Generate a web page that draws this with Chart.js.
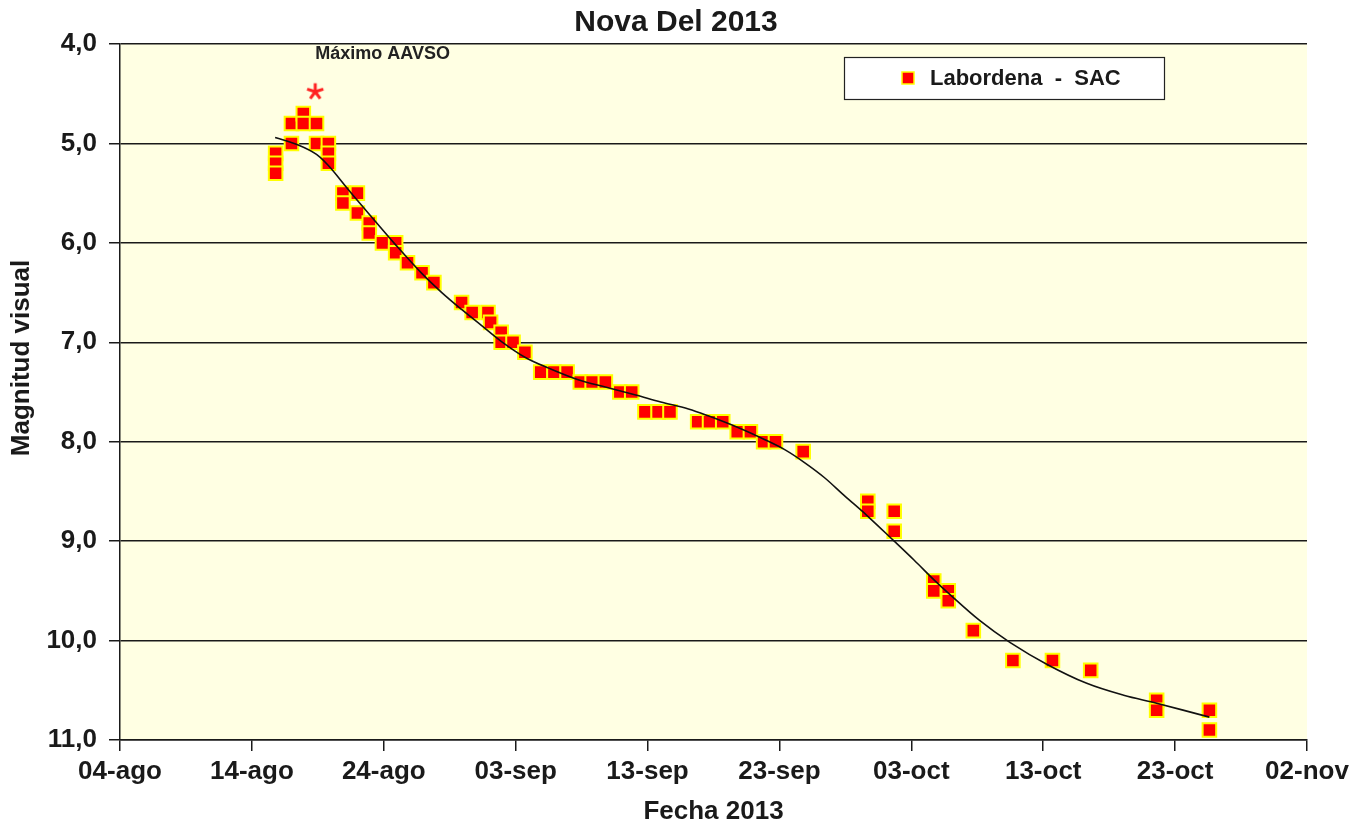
<!DOCTYPE html>
<html>
<head>
<meta charset="utf-8">
<script src="https://cdn.jsdelivr.net/npm/chart.js@4.4.1/dist/chart.umd.min.js"></script>
<style>
  html, body { margin: 0; padding: 0; background: #ffffff; }
  #wrap { width: 1370px; height: 828px; position: relative; }
</style>
</head>
<body>
<div id="wrap"><canvas id="c" width="1370" height="828"></canvas></div>
<script>
// ---- Data (x = days after 04-ago-2013) ----
const chartTitle = 'Nova Del 2013';
const seriesLabel = 'Labordena  -  SAC';
const annotationText = 'Máximo AAVSO';
const xTitle = 'Fecha 2013';
const yTitle = 'Magnitud visual';

const xTickLabels = ['04-ago','14-ago','24-ago','03-sep','13-sep','23-sep','03-oct','13-oct','23-oct','02-nov'];
const yTickLabels = ['4,0','5,0','6,0','7,0','8,0','9,0','10,0','11,0'];

const obsDay = [11.8, 11.8, 11.8, 13.0, 13.0, 13.9, 13.9, 14.9, 14.9, 15.8, 15.8, 15.8,
  16.9, 16.9, 18.0, 18.0, 18.9, 18.9, 19.9, 20.9, 20.9, 21.8, 22.9, 23.8,
  25.9, 26.7, 27.9, 28.1, 28.9, 28.9, 29.8, 30.7, 31.9, 32.9, 33.9, 34.9, 35.8, 36.8,
  37.9, 38.8, 39.8, 40.8, 41.7, 43.8, 44.7, 45.7, 46.8, 47.8, 48.8, 49.7, 51.8,
  56.7, 56.7, 58.7, 58.7, 61.7, 61.7, 62.8, 62.8, 64.7, 67.7, 70.7, 73.6,
  78.6, 78.6, 82.6, 82.6];
const obsMag = [5.1, 5.2, 5.3, 4.8, 5.0, 4.7, 4.8, 4.8, 5.0, 5.0, 5.1, 5.2,
  5.5, 5.6, 5.5, 5.7, 5.8, 5.9, 6.0, 6.0, 6.1, 6.2, 6.3, 6.4,
  6.6, 6.7, 6.7, 6.8, 6.9, 7.0, 7.0, 7.1, 7.3, 7.3, 7.3, 7.4, 7.4, 7.4,
  7.5, 7.5, 7.7, 7.7, 7.7, 7.8, 7.8, 7.8, 7.9, 7.9, 8.0, 8.0, 8.1,
  8.6, 8.7, 8.7, 8.9, 9.4, 9.5, 9.5, 9.6, 9.9, 10.2, 10.2, 10.3,
  10.6, 10.7, 10.7, 10.9];

// trend line
const fitDay = [11.76, 13.6, 14.9, 15.85, 17.1, 18.3, 19.4, 20.9, 22.9, 24.4, 25.9, 27.4, 28.9,
  30.7, 32.5, 34.8, 36.8, 39.1, 41.0, 43.1, 44.6, 46.9, 48.9, 50.4, 51.9, 53.4, 54.9,
  56.7, 58.7, 60.2, 61.8, 62.7, 65.2, 67.5, 70.3, 73.3, 76.1, 78.6, 82.6];
const fitMag = [4.94, 5.02, 5.11, 5.23, 5.43, 5.62, 5.79, 6.02, 6.31, 6.50, 6.67, 6.83, 6.99,
  7.15, 7.26, 7.38, 7.45, 7.53, 7.60, 7.67, 7.74, 7.86, 7.98, 8.08, 8.21, 8.36, 8.54,
  8.75, 9.00, 9.19, 9.40, 9.51, 9.80, 10.02, 10.24, 10.43, 10.55, 10.63, 10.77];

// AAVSO maximum marker
const maxDay = [14.8];
const maxMag = [4.48];

// ---- Styles ----
const FONT = "'Liberation Sans', Arial, sans-serif";
const PLOT_BG = '#FFFFE3';
const INK = '#1a1a1a';

function makeAsterisk() {
  const c = document.createElement('canvas');
  c.width = 22; c.height = 22;
  const g = c.getContext('2d');
  g.strokeStyle = '#FF2020';
  g.lineWidth = 3;
  g.lineCap = 'butt';
  const cx = 11, cy = 11, r = 8.5;
  for (let k = 0; k < 5; k++) {
    const a = -Math.PI / 2 + k * 2 * Math.PI / 5;
    g.beginPath();
    g.moveTo(cx, cy);
    g.lineTo(cx + r * Math.cos(a), cy + r * Math.sin(a));
    g.stroke();
  }
  return c;
}

const bgPlugin = {
  id: 'plotBg',
  beforeDraw(chart) {
    const { ctx, chartArea: a } = chart;
    ctx.save();
    ctx.fillStyle = PLOT_BG;
    ctx.fillRect(a.left, a.top, a.right - a.left, a.bottom - a.top);
    ctx.restore();
  }
};

const decorPlugin = {
  id: 'decor',
  afterDraw(chart) {
    const { ctx, chartArea: a } = chart;
    ctx.save();
    // title
    ctx.fillStyle = INK;
    ctx.font = 'bold 30px ' + FONT;
    ctx.textAlign = 'center';
    ctx.textBaseline = 'middle';
    ctx.fillText(chartTitle, 676, 23);

    // y axis title
    ctx.save();
    ctx.translate(22, 358);
    ctx.rotate(-Math.PI / 2);
    ctx.font = 'bold 26px ' + FONT;
    ctx.fillText(yTitle, 0, 0);
    ctx.restore();

    // annotation text
    const xs = chart.scales.x;
    ctx.font = 'bold 18px ' + FONT;
    ctx.textAlign = 'left';
    ctx.textBaseline = 'top';
    ctx.fillStyle = '#222';
    ctx.fillText(annotationText, xs.getPixelForValue(maxDay[0]), a.top + 1);

    // legend box
    const lx = a.right - 463, ly = a.top + 13, lw = 320, lh = 42;
    ctx.fillStyle = '#ffffff';
    ctx.fillRect(lx, ly, lw, lh);
    ctx.strokeStyle = '#222';
    ctx.lineWidth = 1.2;
    ctx.strokeRect(lx + 0.5, ly + 0.5, lw, lh);
    const mx = lx + 64, my = ly + lh / 2;
    ctx.fillStyle = '#FF0000';
    ctx.fillRect(mx - 6, my - 6, 12, 12);
    ctx.strokeStyle = '#FFFF00';
    ctx.lineWidth = 1.5;
    ctx.strokeRect(mx - 6, my - 6, 12, 12);
    ctx.fillStyle = INK;
    ctx.font = 'bold 22px ' + FONT;
    ctx.textBaseline = 'middle';
    ctx.fillText(chart.data.datasets[1].label, lx + 86, my + 1);
    ctx.restore();
  }
};

new Chart(document.getElementById('c'), {
  type: 'scatter',
  data: {
    datasets: [
      {
        label: 'Tendencia',
        data: fitDay.map((d, i) => ({ x: d, y: fitMag[i] })),
        showLine: true,
        borderColor: '#111',
        borderWidth: 1.6,
        pointRadius: 0,
        tension: 0.35,
        fill: false
      },
      {
        label: seriesLabel,
        data: obsDay.map((d, i) => ({ x: d, y: obsMag[i] })),
        pointStyle: 'rect',
        pointRadius: 9.6,
        pointHoverRadius: 9.6,
        backgroundColor: '#FF0000',
        borderColor: '#FFFF00',
        borderWidth: 2
      },
      {
        label: 'Máximo',
        data: maxDay.map((d, i) => ({ x: d, y: maxMag[i] })),
        pointStyle: makeAsterisk(),
        pointRadius: 10
      }
    ]
  },
  options: {
    responsive: false,
    animation: false,
    events: [],
    layout: { padding: { top: 44, right: 63, left: 0, bottom: 0 } },
    plugins: {
      legend: { display: false },
      title: { display: false },
      tooltip: { enabled: false }
    },
    scales: {
      x: {
        type: 'linear',
        min: 0, max: 90,
        afterFit(s) { s.height = 88; },
        ticks: {
          stepSize: 10,
          autoSkip: false,
          maxRotation: 0,
          padding: 5,
          color: INK,
          font: { family: FONT, size: 26, weight: 'bold' },
          callback: (v) => xTickLabels[Math.round(v / 10)]
        },
        grid: { drawOnChartArea: false, drawTicks: true, tickLength: 11, color: INK, lineWidth: 1.5 },
        border: { color: INK, width: 1.5 },
        title: {
          display: true, text: xTitle, color: INK,
          font: { family: FONT, size: 26, weight: 'bold' },
          padding: { top: 0, bottom: 1 }
        }
      },
      y: {
        type: 'linear',
        reverse: true,
        min: 4, max: 11,
        afterFit(s) { s.width = 120; },
        ticks: {
          stepSize: 1,
          padding: 12,
          color: INK,
          font: { family: FONT, size: 26, weight: 'bold' },
          callback: (v) => yTickLabels[Math.round(v - 4)]
        },
        grid: { drawOnChartArea: true, drawTicks: true, tickLength: 11, color: INK, lineWidth: 1.5 },
        border: { color: INK, width: 1.5 },
        title: { display: false }
      }
    }
  },
  plugins: [bgPlugin, decorPlugin]
});
</script>
</body>
</html>
